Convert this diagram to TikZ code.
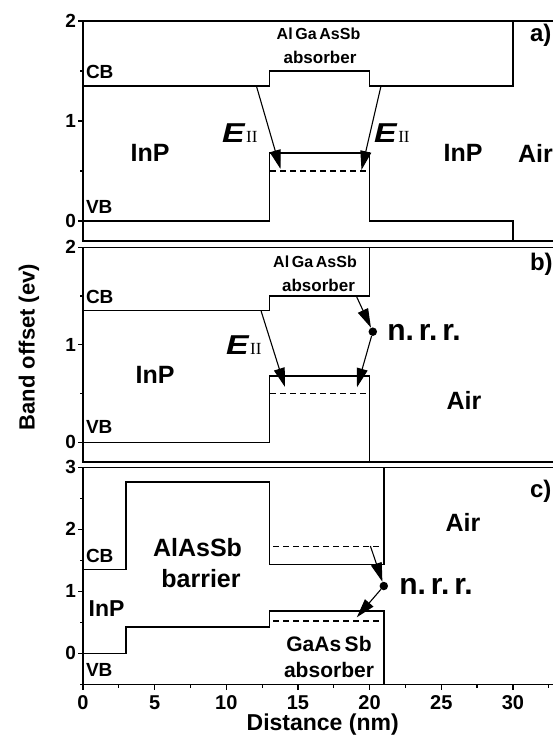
\documentclass[tikz,border=0pt]{standalone}
\usepackage{fontspec}
\setmainfont{Liberation Sans}
\newfontfamily\serifII{Liberation Serif}
\usetikzlibrary{arrows.meta}
\newcommand\setfs[1]{\fontsize{#1}{#1}\selectfont}
\newcommand\EII{\scalebox{1.3}[1.05]{\setfs{26}\bfseries\itshape E}\kern1.5pt{\serifII\setfs{17}II}}
\begin{document}
\begin{tikzpicture}[x=1pt,y=-1pt,
 band/.style={line width=1.3pt, line join=miter},
 frm/.style={line width=1.5pt},
 dsh/.style={line width=1.2pt, dash pattern=on 6pt off 4pt},
 arr/.style={line width=1.1pt, -{Triangle[length=19pt,width=11pt]}},
 lab/.style={font=\bfseries\setfs{#1}, inner sep=0pt, outer sep=0pt},
 tk/.style={line width=1.2pt},
 dot/.style={circle, fill=black, inner sep=0pt, minimum size=8.5pt}
]
\useasboundingbox (0,0) rectangle (553,738);
\clip (0,0) rectangle (553,738);
% ---------- frames ----------
\draw[frm] (560,21) -- (83,21) -- (83,241) -- (560,241);
\draw[frm] (560,247.3) -- (83,247.3) -- (83,461.8) -- (560,461.8);
\draw[frm] (560,467.3) -- (83,467.3) -- (83,684.3) -- (560,684.3);
% ---------- y ticks ----------
\foreach \y in {21,121,221,247.3,344.8,442.3,467.3,529.3,591.3,653.3}
  \draw[tk] (83,\y) -- (78,\y);
\foreach \y in {71,171,296,393.5,498.3,560.3,622.3,684.3}
  \draw[tk] (83,\y) -- (80,\y);
% ---------- x ticks ----------
\foreach \v in {0,5,...,30}
  \draw[tk] ({83+14.33*\v},684.3) -- ({83+14.33*\v},689.5);
\foreach \v in {2.5,7.5,...,32.5}
  \draw[tk] ({83+14.33*\v},684.3) -- ({83+14.33*\v},687.5);
% ---------- tick labels ----------
\node[lab=19, anchor=east] (ya2) at (76,21) {2};
\node[lab=19, anchor=east] (ya1) at (76,121) {1};
\node[lab=19, anchor=east] (ya0) at (76,221) {0};
\node[lab=19, anchor=east] (yb2) at (76,247.3) {2};
\node[lab=19, anchor=east] (yb1) at (76,344.8) {1};
\node[lab=19, anchor=east] (yb0) at (76,442.3) {0};
\node[lab=19, anchor=east] (yc3) at (76,467.3) {3};
\node[lab=19, anchor=east] (yc2) at (76,529.3) {2};
\node[lab=19, anchor=east] (yc1) at (76,591.3) {1};
\node[lab=19, anchor=east] (yc0) at (76,653.3) {0};
\foreach \v in {0,5,...,30}
  \node[lab=20] (xl\v) at ({83+14.33*\v},703) {\v};
\node[lab=23] (xtitle) at (322.7,725) {Distance (nm)};
\node[lab=22, rotate=90] (ytitle) at (29,347) {Band offset (ev)};
% ================= panel a =================
\draw[band] (83,86) -- (269.3,86) -- (269.3,71) -- (369.6,71) -- (369.6,86) -- (512.9,86) -- (512.9,21);
\draw[band] (83,221) -- (269.3,221) -- (269.3,153) -- (369.6,153) -- (369.6,221) -- (512.9,221) -- (512.9,241);
\draw[dsh] (270,171) -- (369,171);
\coordinate (a1s) at (256.4,86);
\coordinate (a1e) at (280.5,169);
\coordinate (a2s) at (381,86);
\coordinate (a2e) at (361.5,170);
\draw[arr] (a1s) -- (a1e);
\draw[arr] (a2s) -- (a2e);
\node[lab=16] (aabs1) at (318.5,34) {Al\,Ga\,AsSb};
\node[lab=17] (aabs2) at (320,57) {absorber};
\node[lab=19, anchor=west] (acb) at (86,72) {CB};
\node[lab=19, anchor=west] (avb) at (86,207) {VB};
\node[lab=25] (ainp1) at (150,153) {InP};
\node[lab=25] (ainp2) at (463,153) {InP};
\node[lab=25, anchor=west] (aair) at (518,153) {Air};
\node[lab=24, anchor=west] (alab) at (530,35) {a)};
\node[inner sep=0pt, anchor=base west] (aE1) at (222,143) {\EII};
\node[inner sep=0pt, anchor=base west] (aE2) at (374,143) {\EII};
% ================= panel b =================
\draw[band] (83,310.7) -- (269.3,310.7) -- (269.3,296) -- (369.6,296) -- (369.6,247.3);
\draw[band] (83,442.3) -- (269.3,442.3) -- (269.3,376) -- (369.6,376) -- (369.6,461.8);
\draw[dsh] (270,393.5) -- (369,393.5);
\coordinate (b1s) at (261,310.7);
\coordinate (b1e) at (285,387);
\coordinate (b2s) at (356.3,296);
\coordinate (b3e) at (357,387.3);
\node[dot] (dotb) at (372.8,331.7) {};
\draw[arr] (b1s) -- (b1e);
\draw[arr] (b2s) -- (dotb);
\draw[arr] (dotb) -- (b3e);
\node[lab=16] (babs1) at (315,262) {Al\,Ga\,AsSb};
\node[lab=17] (babs2) at (318.5,285) {absorber};
\node[lab=19, anchor=west] (bcb) at (86,297) {CB};
\node[lab=19, anchor=west] (bvb) at (86,427) {VB};
\node[lab=25] (binp) at (155,375) {InP};
\node[lab=25] (bair) at (464,400) {Air};
\node[lab=24, anchor=west] (blab) at (530,264) {b)};
\node[lab=30] (bnrr) at (424,332) {n.\,r.\,r.};
\node[inner sep=0pt, anchor=base west] (bE) at (226,354) {\EII};
% ================= panel c =================
\draw[band] (83,569.6) -- (126,569.6) -- (126,482) -- (269.3,482) -- (269.3,564.6) -- (383.9,564.6) -- (383.9,467.3);
\draw[band] (83,653.3) -- (126,653.3) -- (126,627) -- (269.3,627) -- (269.3,611.1) -- (383.9,611.1) -- (383.9,684.3);
\draw[dsh] (273,546.5) -- (382,546.5);
\draw[dsh] (273,621) -- (382,621);
\coordinate (c1s) at (370.4,546);
\coordinate (c2e) at (356.8,617.3);
\node[dot] (dotc) at (383.8,586) {};
\draw[arr] (c1s) -- (dotc);
\draw[arr] (dotc) -- (c2e);
\node[lab=25] (cal) at (197.5,548) {AlAsSb};
\node[lab=25] (cbar) at (201,579) {barrier};
\node[lab=23] (cinp) at (106.5,609) {InP};
\node[lab=19, anchor=west] (ccb) at (86,556) {CB};
\node[lab=19, anchor=west] (cvb) at (86,670) {VB};
\node[lab=21] (cga1) at (329,644) {GaAs\,Sb};
\node[lab=21] (cga2) at (329,670) {absorber};
\node[lab=25] (cair) at (463,522) {Air};
\node[lab=30] (cnrr) at (436,586) {n.\,r.\,r.};
\node[lab=24, anchor=west] (clab) at (530,491) {c)};
\end{tikzpicture}
\end{document}
